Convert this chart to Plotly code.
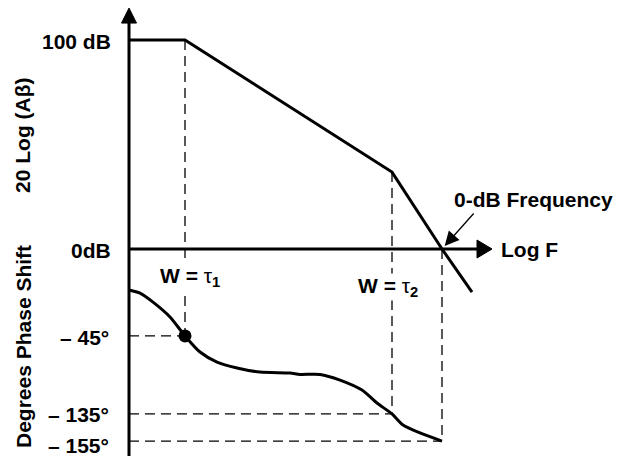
import plotly.graph_objects as go

# ---------------- data (diagram units: x = log frequency, y = dB-equivalent) -------------
freq_gain = [0.0, 1.12, 5.26, 6.26, 6.86]
gain_db = [100, 100, 36.8, 0, -20.6]

freq_phase = [0.00, 0.22, 0.48, 0.82, 1.12, 1.42, 1.76, 2.16, 2.62, 3.22, 3.42, 3.82,
              4.22, 4.66, 4.96, 5.26, 5.48, 5.82, 6.26]
phase_pos = [-19.6, -21.1, -25.4, -32.5, -41.6, -49.3, -54.1, -56.9, -58.9, -59.3, -60.0,
             -60.0, -62.7, -67.5, -73.7, -78.9, -84.2, -88.0, -91.9]

tau1, tau2, f0 = 1.12, 5.26, 6.26
phase_levels = [-41.6, -78.9, -91.9]
phase_labels = ["\u2013 45\u00b0", "\u2013 135\u00b0", "\u2013 155\u00b0"]
gain_levels = [100, 0]
gain_labels = ["100 dB", "0dB"]

# the page body adds an 8px offset, so the figure covers the remaining 613x448 area
FIG_W, FIG_H = 613, 448
X_RANGE = [-2.42, 9.84]
Y_RANGE = [-99.04, 115.31]
PX_X = FIG_W / (X_RANGE[1] - X_RANGE[0])   # px per x unit
PX_Y = FIG_H / (Y_RANGE[1] - Y_RANGE[0])   # px per y unit

FONT = "Liberation Sans, Arial, Helvetica, sans-serif"
FS = 21

fig = go.Figure()

# dashed construction lines
segs = [
    ([tau1, tau1], [100, phase_levels[0]]),
    ([0, tau1], [phase_levels[0], phase_levels[0]]),
    ([tau2, tau2], [gain_db[2], phase_levels[1]]),
    ([0, tau2], [phase_levels[1], phase_levels[1]]),
    ([f0, f0], [0, phase_levels[2]]),
    ([0, f0], [phase_levels[2], phase_levels[2]]),
]
for sx, sy in segs:
    fig.add_trace(go.Scatter(x=sx, y=sy, mode="lines",
                             line=dict(color="black", width=1.3, dash="10px,6px"),
                             hoverinfo="skip", showlegend=False))

# axes lines
ax_top = 108.1
ax_right = 6.96
fig.add_trace(go.Scatter(x=[0, 0], y=[Y_RANGE[0], ax_top], mode="lines",
                         line=dict(color="black", width=3), showlegend=False))
fig.add_trace(go.Scatter(x=[0, ax_right], y=[0, 0], mode="lines",
                         line=dict(color="black", width=3), showlegend=False))

# arrowheads of axes
hw = 7.5 / PX_X
fig.add_trace(go.Scatter(x=[-hw, hw, 0, -hw], y=[ax_top, ax_top, ax_top + 15 / PX_Y, ax_top],
                         mode="lines", fill="toself", fillcolor="black",
                         line=dict(color="black", width=1), showlegend=False))
hh = 9 / PX_Y
fig.add_trace(go.Scatter(x=[ax_right, ax_right, ax_right + 15 / PX_X, ax_right],
                         y=[-hh, hh, 0, -hh],
                         mode="lines", fill="toself", fillcolor="black",
                         line=dict(color="black", width=1), showlegend=False))

# gain curve
fig.add_trace(go.Scatter(x=freq_gain, y=gain_db, mode="lines",
                         line=dict(color="black", width=3), showlegend=False))

# phase curve
fig.add_trace(go.Scatter(x=freq_phase, y=phase_pos, mode="lines",
                         line=dict(color="black", width=3, shape="spline", smoothing=0.7),
                         showlegend=False))

# -45 degree point
fig.add_trace(go.Scatter(x=[tau1], y=[phase_levels[0]], mode="markers",
                         marker=dict(color="black", size=13), showlegend=False))

ann = []
def txt(text, x, y, xanchor="center", yanchor="middle", angle=0, bg=None, xshift=0, yshift=0):
    d = dict(text=text, x=x, y=y, xref="x", yref="y", showarrow=False,
             xanchor=xanchor, yanchor=yanchor, textangle=angle,
             font=dict(family=FONT, size=FS, color="black", weight="bold"),
             xshift=xshift, yshift=yshift, borderpad=0)
    if bg:
        d["bgcolor"] = bg
    ann.append(d)

for lv, lb in zip(gain_levels, gain_labels):
    txt(lb, 0, lv, xanchor="right", xshift=-17, yshift=-1)
for lv, lb, ys in zip(phase_levels, phase_labels, [-2, -1, -4]):
    txt(lb, 0, lv, xanchor="right", xshift=-19, yshift=ys)

txt("20 Log (A\u03b2)", -2.12, 54.1, angle=-90)
txt("Degrees Phase Shift", -2.12, -46.9, angle=-90)

txt("W = <span style='font-weight:normal'>\u03c4</span><sub>1</sub>", tau1, 0, bg="white", xshift=5, yshift=-28)
txt("W = <span style='font-weight:normal'>\u03c4</span><sub>2</sub>", tau2, 0, bg="white", xshift=-4, yshift=-38)
txt("Log F", ax_right + 15 / PX_X, 0, xanchor="left", xshift=8)
txt("0-dB Frequency", f0, 0, xanchor="left", xshift=11, yshift=50)

# arrow for 0-dB frequency
ann.append(dict(x=f0, y=0, xref="x", yref="y", ax=f0 + 33 / PX_X, ay=37 / PX_Y,
                axref="x", ayref="y", text="", showarrow=True,
                arrowhead=2, arrowsize=2.2, arrowwidth=1.3, arrowcolor="black",
                standoff=4))

fig.update_layout(
    width=FIG_W, height=FIG_H, autosize=False,
    margin=dict(l=0, r=0, t=0, b=0),
    paper_bgcolor="white", plot_bgcolor="white",
    xaxis=dict(range=X_RANGE, visible=False, fixedrange=True),
    yaxis=dict(range=Y_RANGE, visible=False, fixedrange=True),
    annotations=ann,
    showlegend=False,
)

fig.write_html("out.html")
